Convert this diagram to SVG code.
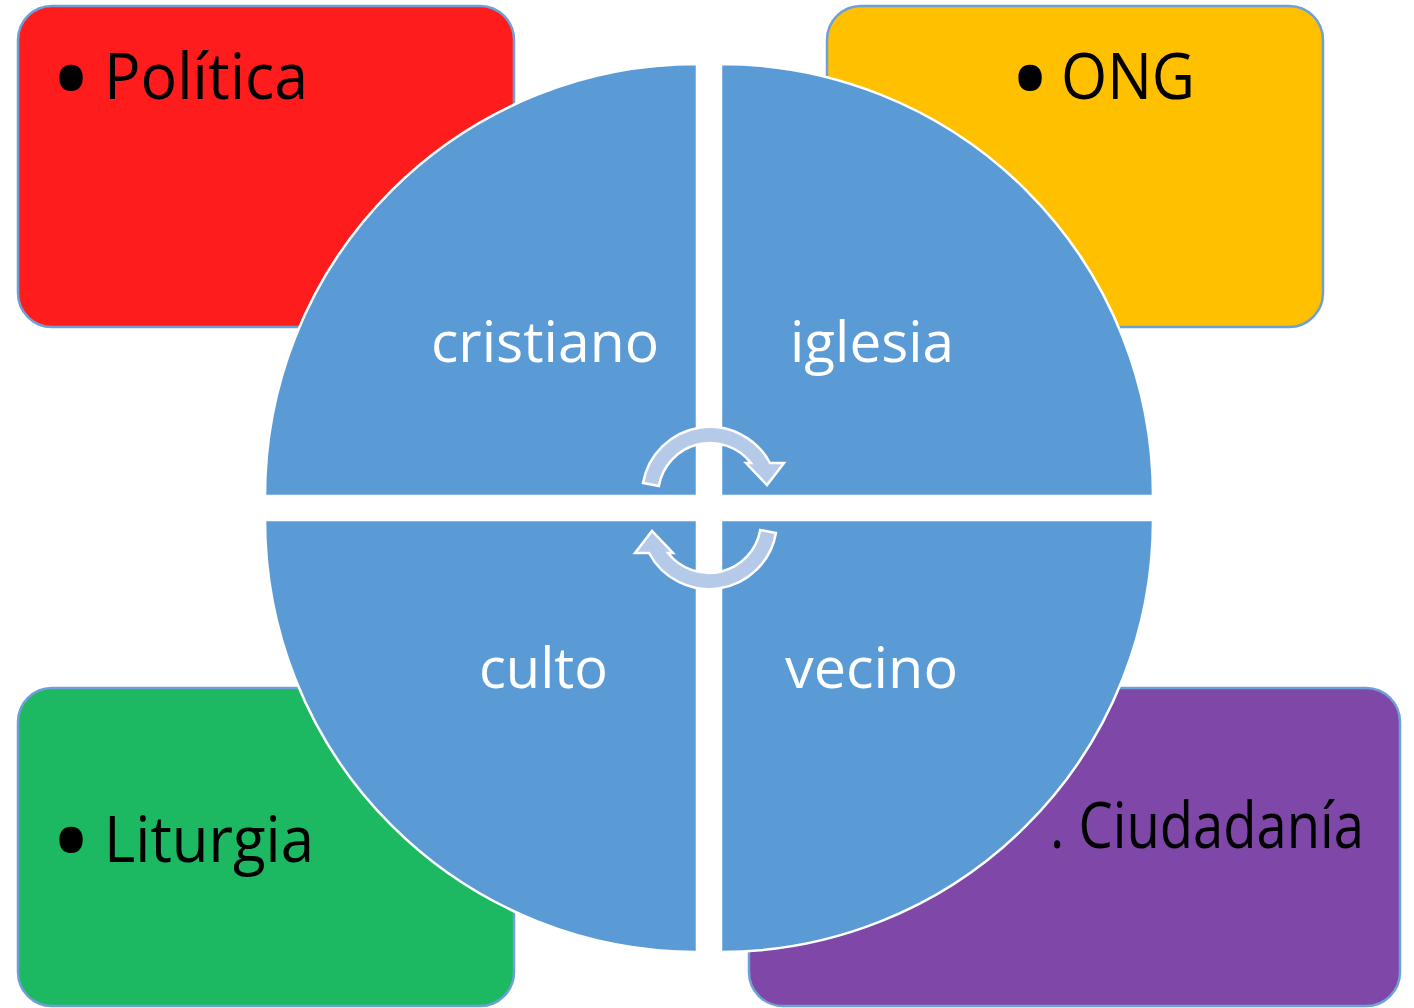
<svg xmlns="http://www.w3.org/2000/svg" width="1414" height="1008" viewBox="0 0 1414 1008">
<style>
.box{stroke:#6e9fd6;stroke-width:2.5}
.q{fill:#5b9bd5;stroke:#ffffff;stroke-width:2.5}
.lbl{font-family:"Open Sans","Liberation Sans",sans-serif;font-size:56px;fill:#ffffff}
.btxt{font-family:"Open Sans","Liberation Sans",sans-serif;font-size:64px;fill:#000000}
.bul{font-family:"Open Sans","Liberation Sans",sans-serif;font-size:112px;fill:#000000}
.arr{fill:#b5c9e8;stroke:#ffffff;stroke-width:2.5;stroke-linejoin:miter}
</style>
<rect width="1414" height="1008" fill="#ffffff"/>
<g id="box-politica">
<rect class="box" x="18" y="6" width="496" height="321" rx="34" fill="#ff1c1c"/>
<text class="bul" x="50" y="119">•</text>
<text class="btxt" x="104" y="99" textLength="204" lengthAdjust="spacingAndGlyphs">Política</text>
</g>
<g id="box-ong">
<rect class="box" x="827" y="6" width="496" height="321" rx="34" fill="#ffc000"/>
<text class="bul" x="1009" y="119">•</text>
<text class="btxt" x="1061" y="99" textLength="134" lengthAdjust="spacingAndGlyphs">ONG</text>
</g>
<g id="box-liturgia">
<rect class="box" x="18" y="688" width="496" height="318" rx="34" fill="#1db862"/>
<text class="bul" x="50" y="881">•</text>
<text class="btxt" x="104" y="862" textLength="210" lengthAdjust="spacingAndGlyphs">Liturgia</text>
</g>
<g id="box-ciudadania">
<rect class="box" x="749" y="688" width="651" height="318" rx="34" fill="#7e47a8"/>
<text class="btxt" x="1050" y="848" font-size="60" textLength="314" lengthAdjust="spacingAndGlyphs">. Ciudadanía</text>
</g>
<g id="q-cristiano">
<path class="q" d="M697,496 L265,496 A432,432 0 0 1 697,64 Z"/>
<text class="lbl" x="431" y="362" textLength="228" lengthAdjust="spacingAndGlyphs">cristiano</text>
</g>
<g id="q-iglesia">
<path class="q" d="M721,496 L721,64 A432,432 0 0 1 1153,496 Z"/>
<text class="lbl" x="790" y="362" textLength="164" lengthAdjust="spacingAndGlyphs">iglesia</text>
</g>
<g id="q-culto">
<path class="q" d="M697,520 L697,952 A432,432 0 0 1 265,520 Z"/>
<text class="lbl" x="479" y="688" textLength="129" lengthAdjust="spacingAndGlyphs">culto</text>
</g>
<g id="q-vecino">
<path class="q" d="M721,520 L1153,520 A432,432 0 0 1 721,952 Z"/>
<text class="lbl" x="785" y="688" textLength="173" lengthAdjust="spacingAndGlyphs">vecino</text>
</g>
<g id="connectors">
<path id="cyc-top" class="arr" d="M643,483 A68,68 0 0 1 770,463 L784,463 L767,485 L746,463 L751,463 A52,52 0 0 0 658.8,486 Z"/>
<path id="cyc-bottom" class="arr" transform="rotate(180 709.5 508)" d="M643,483 A68,68 0 0 1 770,463 L784,463 L767,485 L746,463 L751,463 A52,52 0 0 0 658.8,486 Z"/>
</g>
</svg>
